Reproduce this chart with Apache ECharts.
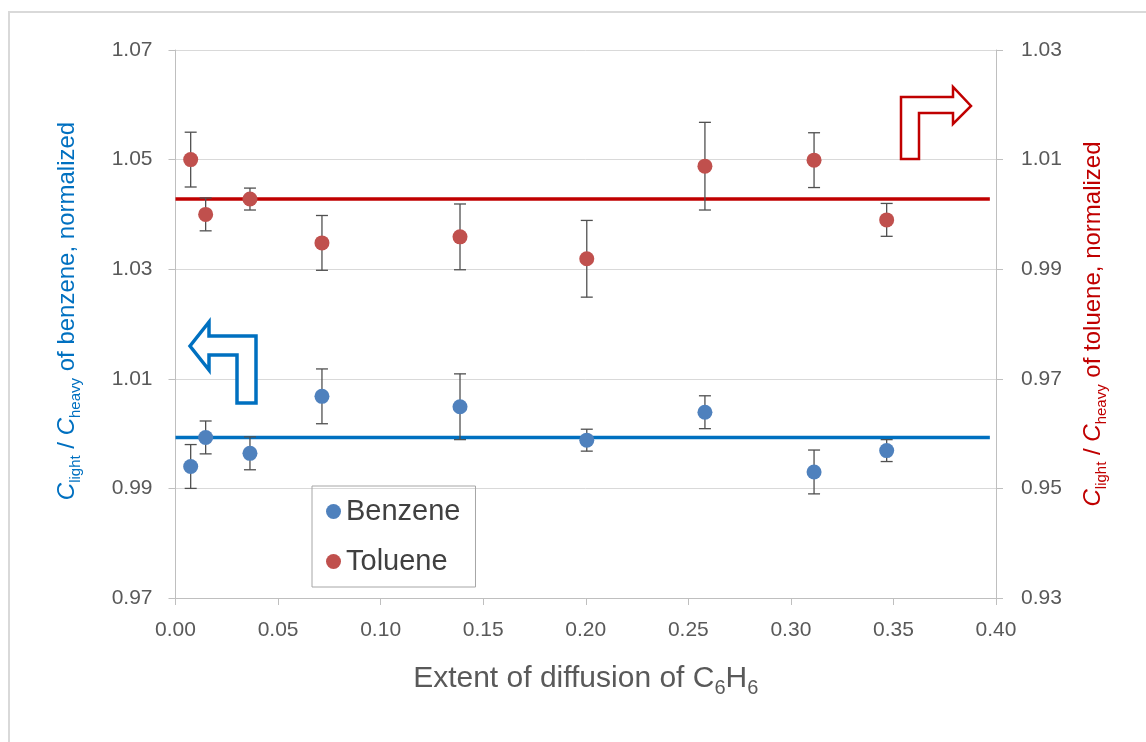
<!DOCTYPE html>
<html><head><meta charset="utf-8">
<script src="https://cdn.jsdelivr.net/npm/echarts@6/dist/echarts.min.js"></script>
<style>html,body{margin:0;padding:0;background:#fff}#c{width:1146px;height:742px}</style>
</head><body><div id="c"></div>
<script>
// ---- data ----
const xValues    = [0.0074, 0.0147, 0.0363, 0.0714, 0.1387, 0.2005, 0.2581, 0.3113, 0.3467];
const benzene    = [0.9940, 0.9993, 0.9964, 1.0068, 1.0049, 0.9988, 1.0039, 0.9930, 0.9969];
const benzeneErr = [0.004, 0.003, 0.003, 0.005, 0.006, 0.002, 0.003, 0.004, 0.002];
const toluene    = [1.0100, 1.0000, 1.0028, 0.9948, 0.9959, 0.9919, 1.0088, 1.0099, 0.9990];
const tolueneErr = [0.005, 0.003, 0.002, 0.005, 0.006, 0.007, 0.008, 0.005, 0.003];
const benzeneLevel = [0.9993, 0.9993];
const tolueneLevel = [1.0028, 1.0028];
const levelX = [0, 0.397];
const xRange = [0, 0.40, 0.05];
const leftRange = [0.97, 1.07, 0.02];
const rightRange = [0.93, 1.03, 0.02];

const FONT = 'Liberation Sans, Arial, sans-serif';
const GRAY = '#595959';

function errRender(params, api) {
  const x = api.value(0), lo = api.value(1), hi = api.value(2);
  const a = api.coord([x, lo]), b = api.coord([x, hi]);
  const hw = 6;
  const style = { stroke: '#505050', lineWidth: 1.3 };
  return { type: 'group', children: [
    { type: 'line', shape: { x1: a[0], y1: a[1], x2: b[0], y2: b[1] }, style },
    { type: 'line', shape: { x1: b[0] - hw, y1: b[1], x2: b[0] + hw, y2: b[1] }, style },
    { type: 'line', shape: { x1: a[0] - hw, y1: a[1], x2: a[0] + hw, y2: a[1] }, style }
  ]};
}

const chart = echarts.init(document.getElementById('c'), null, { renderer: 'canvas' });
const axisLine = { show: true, lineStyle: { color: '#bfbfbf', width: 1 } };
const axisTick = { show: true, length: 7, lineStyle: { color: '#bfbfbf' } };
const titleRich = (color) => ({
  i: { fontStyle: 'italic', fontSize: 24, color, fontFamily: FONT },
  s: { fontSize: 15, color, fontFamily: FONT, padding: [17, 0, 0, 0] },
  n: { fontSize: 24, color, fontFamily: FONT }
});

chart.setOption({
  animation: false,
  backgroundColor: '#fff',
  grid: { left: 175.5, right: 150, top: 50, bottom: 144, containLabel: false },
  legend: {
    data: ['Benzene', 'Toluene'],
    orient: 'vertical', left: 312, top: 486,
    padding: [11, 15, 11, 14],
    itemWidth: 15, itemHeight: 15, itemGap: 21,
    icon: 'circle', itemTextGap: 9,
    borderColor: '#a6a6a6', borderWidth: 1,
    textStyle: { fontSize: 29, color: '#404040', fontFamily: FONT }
  },
  xAxis: {
    type: 'value', min: xRange[0], max: xRange[1], interval: xRange[2],
    axisLine, axisTick, splitLine: { show: false },
    axisLabel: { fontSize: 21, color: GRAY, fontFamily: FONT, margin: 22,
      formatter: v => v.toFixed(2) },
    name: '{n|Extent of diffusion of C}{s|6}{n|H}{s|6}',
    nameLocation: 'middle', nameGap: 61,
    nameTextStyle: { rich: {
      n: { fontSize: 30, color: GRAY, fontFamily: FONT },
      s: { fontSize: 20, color: GRAY, fontFamily: FONT, padding: [19, 0, 0, 0] }
    } }
  },
  yAxis: [{
    type: 'value', min: leftRange[0], max: leftRange[1], interval: leftRange[2],
    position: 'left', axisLine, axisTick,
    splitLine: { show: true, lineStyle: { color: '#d9d9d9', width: 1 } },
    axisLabel: { fontSize: 21, color: GRAY, fontFamily: FONT, margin: 23,
      formatter: v => v.toFixed(2) },
    name: '{i|C}{s|light}{n| / }{i|C}{s|heavy}{n| of benzene, normalized}',
    nameLocation: 'middle', nameRotate: 90, nameGap: 92,
    nameTextStyle: { rich: titleRich('#0070C0'), padding: [0, 0, 0, 26] }
  }, {
    type: 'value', min: rightRange[0], max: rightRange[1], interval: rightRange[2],
    position: 'right', axisLine, axisTick, splitLine: { show: false },
    axisLabel: { fontSize: 21, color: GRAY, fontFamily: FONT, margin: 25,
      formatter: v => v.toFixed(2) },
    name: '{i|C}{s|light}{n| / }{i|C}{s|heavy}{n| of toluene, normalized}',
    nameLocation: 'middle', nameRotate: 90, nameGap: 81,
    nameTextStyle: { rich: titleRich('#C00000') }
  }],
  graphic: [
    { type: 'rect', z: -10, shape: { x: 9, y: 12, width: 1200, height: 800 },
      style: { fill: 'none', stroke: '#d9d9d9', lineWidth: 2 } },
    { type: 'polygon', z: 100,
      shape: { points: [[190,346],[209,322],[209,336],[256,336],[256,403],[237,403],[237,355],[209,355],[209,370]] },
      style: { fill: '#fff', stroke: '#0070C0', lineWidth: 3.5 } },
    { type: 'polygon', z: 100,
      shape: { points: [[901,159],[901,97],[953,97],[953,87],[971,106],[953,124],[953,113],[919,113],[919,159]] },
      style: { fill: '#fff', stroke: '#C00000', lineWidth: 2.5 } }
  ],
  series: [
    { name: 'Benzene mean', type: 'line', yAxisIndex: 0, z: 1, symbol: 'none', silent: true,
      data: levelX.map((x, i) => [x, benzeneLevel[i]]),
      lineStyle: { color: '#0070C0', width: 3.5 } },
    { name: 'Toluene mean', type: 'line', yAxisIndex: 1, z: 1, symbol: 'none', silent: true,
      data: levelX.map((x, i) => [x, tolueneLevel[i]]),
      lineStyle: { color: '#C00000', width: 3.5 } },
    { name: 'Benzene err', type: 'custom', yAxisIndex: 0, z: 2, renderItem: errRender,
      encode: { x: 0, y: [1, 2] },
      data: xValues.map((x, i) => [x, benzene[i] - benzeneErr[i], benzene[i] + benzeneErr[i]]) },
    { name: 'Toluene err', type: 'custom', yAxisIndex: 1, z: 2, renderItem: errRender,
      encode: { x: 0, y: [1, 2] },
      data: xValues.map((x, i) => [x, toluene[i] - tolueneErr[i], toluene[i] + tolueneErr[i]]) },
    { name: 'Benzene', type: 'scatter', yAxisIndex: 0, z: 3, symbolSize: 15,
      itemStyle: { color: '#4F81BD', opacity: 1 },
      data: xValues.map((x, i) => [x, benzene[i]]) },
    { name: 'Toluene', type: 'scatter', yAxisIndex: 1, z: 3, symbolSize: 15,
      itemStyle: { color: '#C0504D', opacity: 1 },
      data: xValues.map((x, i) => [x, toluene[i]]) }
  ]
});
</script></body></html>
